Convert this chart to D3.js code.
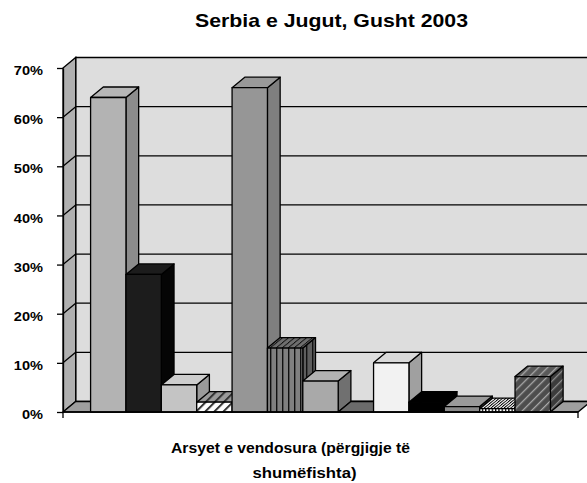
<!DOCTYPE html>
<html><head><meta charset="utf-8">
<script src="https://cdn.jsdelivr.net/npm/d3@7"></script>
<style>
body{margin:0;background:#fff}
text{font-family:"Liberation Sans",Arial,sans-serif;font-weight:bold;fill:#000}
</style>
</head><body>
<svg id="c" width="587" height="483"></svg>
<script>
// ---- data ----
const chartTitle = "Serbia e Jugut, Gusht 2003";
const xTitleLines = ["Arsyet e vendosura (përgjigje të", "shumëfishta)"];
const category = ["Arsyet e vendosura"];
const seriesNames = ["Arsyeja 1","Arsyeja 2","Arsyeja 3","Arsyeja 4","Arsyeja 5","Arsyeja 6","Arsyeja 7",
                     "Arsyeja 8","Arsyeja 9","Arsyeja 10","Arsyeja 11","Arsyeja 12","Arsyeja 13"];
const seriesValues = [0.64, 0.28, 0.055, 0.02, 0.66, 0.13, 0.063, 0.0, 0.10, 0.02, 0.011, 0.007, 0.072];
const yTickValues = [0, 0.1, 0.2, 0.3, 0.4, 0.5, 0.6, 0.7];

// ---- styles (front, top, side) ----
const barStyles = [
  {front:"#b3b3b3", top:"#b6b6b6", side:"#8c8c8c"},
  {front:"#1c1c1c", top:"#1c1c1c", side:"#050505"},
  {front:"#c4c4c4", top:"#cdcdcd", side:"#9a9a9a"},
  {front:"url(#hatchW)", top:"url(#hatchG)", side:"#777"},
  {front:"#969696", top:"#999999", side:"#7f7f7f"},
  {front:"url(#vStripeG)", top:"url(#vStripeGTop)", side:"url(#vStripeGSide)"},
  {front:"#a9a9a9", top:"#b2b2b2", side:"#707070"},
  {front:"#6b6b6b", top:"#6b6b6b", side:"#555"},
  {front:"#f2f2f2", top:"#d9d9d9", side:"#a0a0a0"},
  {front:"#000000", top:"#000000", side:"#000000"},
  {front:"#8a8a8a", top:"#9a9a9a", side:"#6e6e6e"},
  {front:"url(#vStripeW)", top:"url(#vStripeWTop)", side:"url(#vStripeW)"},
  {front:"url(#hatchD)", top:"url(#hatchDTop)", side:"url(#hatchDSide)"}
];

const svg = d3.select("#c");
const W = 587, H = 483;
svg.append("rect").attr("width", W).attr("height", H).attr("fill", "#fff");

// ---- patterns ----
const defs = svg.append("defs");
function diagPattern(id, bg, fg, gap, thick) {
  const p = defs.append("pattern").attr("id", id).attr("patternUnits", "userSpaceOnUse")
    .attr("width", gap).attr("height", gap).attr("patternTransform", "rotate(45)");
  p.append("rect").attr("width", gap).attr("height", gap).attr("fill", bg);
  p.append("rect").attr("width", thick).attr("height", gap).attr("fill", fg);
}
function vPattern(id, bg, fg, gap, thick, tr) {
  const p = defs.append("pattern").attr("id", id).attr("patternUnits", "userSpaceOnUse")
    .attr("width", gap).attr("height", 20);
  if (tr) p.attr("patternTransform", tr);
  p.append("rect").attr("width", gap).attr("height", 20).attr("fill", bg);
  p.append("rect").attr("x", 0).attr("width", thick).attr("height", 20).attr("fill", fg);
}
diagPattern("hatchW", "#ffffff", "#333333", 6.4, 2.0);
diagPattern("hatchG", "#9a9a9a", "#333333", 6.4, 2.0);
diagPattern("hatchD", "#4d4d4d", "#a6a6a6", 6.4, 1.3);
diagPattern("hatchDTop", "#5a5a5a", "#a6a6a6", 6.4, 1.3);
diagPattern("hatchDSide", "#3c3c3c", "#8a8a8a", 6.4, 1.3);
const skew = "skewX(-50.4)";
vPattern("vStripeG", "#808080", "#111", 6, 1.4);
vPattern("vStripeGTop", "#6e6e6e", "#111", 6, 1.4, skew);
vPattern("vStripeGSide", "#5e5e5e", "#111", 6, 1.4);
vPattern("vStripeW", "#ffffff", "#000", 3.3, 1.3);
vPattern("vStripeWTop", "#e6e6e6", "#000", 3.3, 1.3, skew);

// ---- geometry ----
const xL = 63, xR = 578, yB = 412, yT = 68;
const dx = 12.7, dy = -10.5;

const y = d3.scaleLinear().domain([0, 0.7]).range([yB, yT]);
const xCat = d3.scaleBand().domain(category).range([xL, xR]);
const x = d3.scaleBand().domain(seriesNames).range([xCat.range()[0], xCat.range()[1]])
  .paddingInner(0).paddingOuter(0.78);

const line = pts => "M" + pts.map(p => p.join(",")).join("L") + "Z";

// back wall
svg.append("path").attr("d", line([[xL+dx, y(0.7)+dy],[xR+dx+20, y(0.7)+dy],[xR+dx+20, yB+dy],[xL+dx, yB+dy]]))
  .attr("fill", "#dddddd").attr("stroke", "#000").attr("stroke-width", 1.3);
// side wall
svg.append("path").attr("d", line([[xL, y(0.7)],[xL+dx, y(0.7)+dy],[xL+dx, yB+dy],[xL, yB]]))
  .attr("fill", "#b0b0b0").attr("stroke", "#000").attr("stroke-width", 1.3);
// floor
svg.append("path").attr("d", line([[xL, yB],[xL+dx, yB+dy],[xR+dx, yB+dy],[xR, yB]]))
  .attr("fill", "#9e9e9e").attr("stroke", "#000").attr("stroke-width", 1.3);

// gridlines
const grid = svg.append("g").attr("stroke", "#000").attr("stroke-width", 1.3);
yTickValues.filter(v => v > 0 && v < 0.7).forEach(v => {
  grid.append("line").attr("x1", xL+dx).attr("x2", xR+dx+20).attr("y1", y(v)+dy).attr("y2", y(v)+dy);
  grid.append("line").attr("x1", xL).attr("x2", xL+dx).attr("y1", y(v)).attr("y2", y(v)+dy);
});

// bars
const bars = svg.append("g").attr("stroke", "#000").attr("stroke-width", 1.3).attr("stroke-linejoin", "round");
seriesNames.forEach((s, i) => {
  const v = seriesValues[i], st = barStyles[i];
  const x0 = x(s), x1 = x(s) + x.bandwidth(), yv = y(v);
  const g = bars.append("g");
  g.append("path").attr("d", line([[x1, yv],[x1+dx, yv+dy],[x1+dx, yB+dy],[x1, yB]])).attr("fill", st.side);
  g.append("path").attr("d", line([[x0, yv],[x0+dx, yv+dy],[x1+dx, yv+dy],[x1, yv]])).attr("fill", st.top);
  if (yB - yv > 0.1)
    g.append("path").attr("d", line([[x0, yv],[x1, yv],[x1, yB],[x0, yB]])).attr("fill", st.front);
});

// axes
const yAxis = d3.axisLeft(y).tickValues(yTickValues).tickFormat(d3.format(".0%"))
  .tickSize(6).tickSizeOuter(0).tickPadding(14);
const ya = svg.append("g").attr("transform", `translate(${xL},0)`).call(yAxis);
ya.select(".domain").attr("stroke", "#000").attr("stroke-width", 1.3);
ya.selectAll(".tick line").attr("stroke", "#000").attr("stroke-width", 1.3);
ya.selectAll(".tick text").attr("font-size", 13).attr("y", 2.5)
  .style("font-family", '"Liberation Sans",Arial,sans-serif').style("font-weight", "bold").attr("fill", "#000");
ya.selectAll(".tick text").each(function () {
  const w = this.getComputedTextLength();
  d3.select(this).attr("textLength", w * 1.12).attr("lengthAdjust", "spacingAndGlyphs");
});

const xa = svg.append("g");
xa.append("line").attr("x1", xL).attr("x2", xR).attr("y1", yB).attr("y2", yB).attr("stroke", "#000").attr("stroke-width", 1.5);
xCat.range().forEach(px => xa.append("line").attr("x1", px).attr("x2", px).attr("y1", yB).attr("y2", yB+6)
  .attr("stroke", "#000").attr("stroke-width", 1.3));

// titles
svg.append("text").attr("x", 331.5).attr("y", 27).attr("text-anchor", "middle")
  .attr("font-size", 19).attr("textLength", 273).attr("lengthAdjust", "spacingAndGlyphs").text(chartTitle);
const xTitleY = [453, 478], xTitleX = [290.5, 304.5], xTitleW = [239, 104];
xTitleLines.forEach((t, i) => {
  svg.append("text").attr("x", xTitleX[i]).attr("y", xTitleY[i]).attr("text-anchor", "middle")
    .attr("font-size", 15).attr("textLength", xTitleW[i]).attr("lengthAdjust", "spacingAndGlyphs").text(t);
});
</script>
</body></html>
